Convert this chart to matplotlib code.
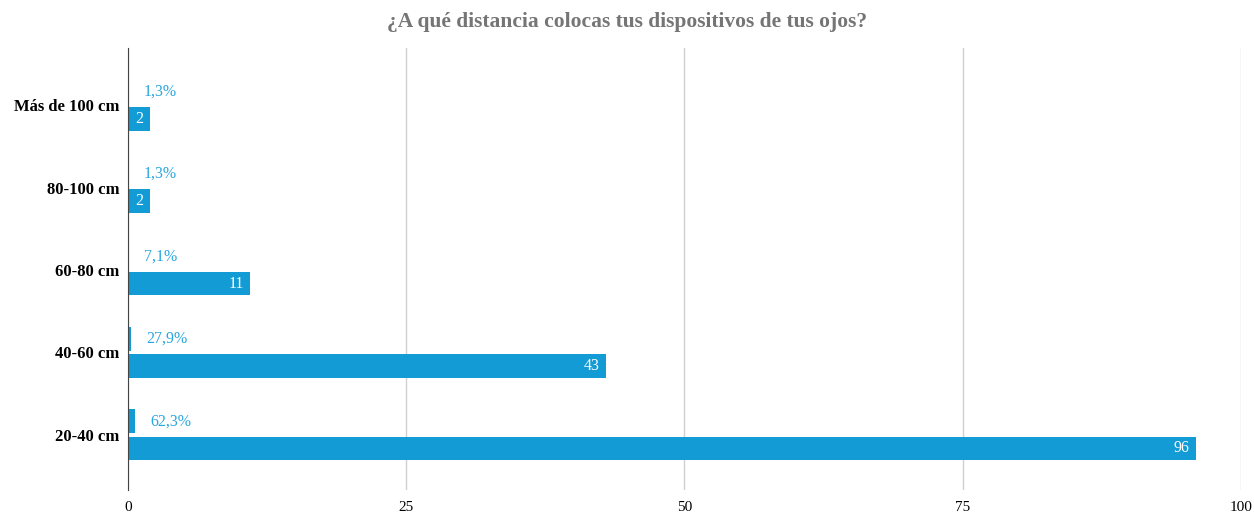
import numpy as np
import matplotlib.pyplot as plt

# survey answers: how far from the eyes devices are held
categories = ["20-40 cm", "40-60 cm", "60-80 cm", "80-100 cm", "Más de 100 cm"]
counts = [96, 43, 11, 2, 2]
shares = [0.623, 0.279, 0.071, 0.013, 0.013]
share_labels = ["62,3%", "27,9%", "7,1%", "1,3%", "1,3%"]

title = "¿A qué distancia colocas tus dispositivos de tus ojos?"
BLUE = "#129bd4"
LABEL_BLUE = "#2aa6df"

plt.rcParams['font.family'] = ['Liberation Serif', 'DejaVu Serif']

fig = plt.figure(figsize=(12.54, 5.12), dpi=100)
ax = fig.add_axes([0.102, 0.043, 0.8874, 0.863])

y = np.arange(len(categories))
h = 0.29
off = 0.164

count_bars = ax.barh(y - off, counts, height=h, color=BLUE, zorder=3)
share_bars = ax.barh(y + off, shares, height=h, color=BLUE, zorder=3)

for yy, c in zip(y, counts):
    ax.text(c - 0.6, yy - off, str(c), color="white", fontsize=11.5,
            ha="right", va="center", zorder=4)
for yy, s, lab in zip(y, shares, share_labels):
    ax.text(s + 1.4, yy + off, lab, color=LABEL_BLUE, fontsize=11.5,
            ha="left", va="center", zorder=4)

ax.set_xlim(0, 100)
ax.set_ylim(-0.667, 4.69)
ax.set_xticks([0, 25, 50, 75, 100])
ax.set_xticklabels(["0", "25", "50", "75", "100"], fontsize=11)
ax.set_yticks(y)
ax.set_yticklabels(categories, fontsize=12, fontweight="bold")
ax.tick_params(axis="both", length=0)
ax.tick_params(axis="x", pad=8)
ax.tick_params(axis="y", pad=6)

ax.grid(axis="x", color="#d0d0d0", linewidth=1, zorder=0)
ax.grid(axis="y", visible=False)
for side in ["top", "right", "bottom"]:
    ax.spines[side].set_visible(False)
ax.spines["left"].set_color("#444444")
ax.spines["left"].set_zorder(5)

fig.text(0.5, 0.958, title, ha="center", va="center", fontsize=15.5,
         fontweight="bold", color="#757575")

fig.savefig("out.png", dpi=100)
